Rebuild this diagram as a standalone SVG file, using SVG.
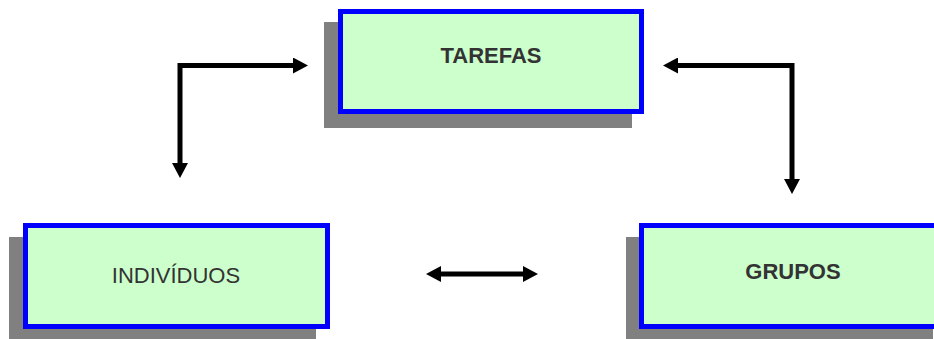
<svg xmlns="http://www.w3.org/2000/svg" width="934" height="339" viewBox="0 0 934 339">
  <style>
    .shadow { fill: #808080; }
    .box { fill: #CCFFCC; stroke: #0000FF; stroke-width: 5; }
    .label { font-family: "Liberation Sans", Arial, sans-serif; font-size: 22px; fill: #333333; text-anchor: middle; }
    .bold { font-weight: bold; }
    .link { fill: none; stroke: #000000; stroke-width: 5; stroke-linejoin: miter; stroke-linecap: butt; }
  </style>
  <defs>
    <marker id="head" markerUnits="userSpaceOnUse" viewBox="0 0 15 16" markerWidth="15" markerHeight="16" refX="0" refY="8" orient="auto-start-reverse">
      <path d="M0,0 L15,8 L0,16 z" fill="#000000"/>
    </marker>
  </defs>

  <g id="tarefas">
    <rect class="shadow" x="324" y="22" width="308" height="106"/>
    <rect class="box" x="340.5" y="11.5" width="301" height="100"/>
    <text class="label bold" x="491" y="63">TAREFAS</text>
  </g>

  <g id="individuos">
    <rect class="shadow" x="9" y="237" width="307" height="106"/>
    <rect class="box" x="25.5" y="225.5" width="302" height="101"/>
    <text class="label" x="176" y="283">INDIVÍDUOS</text>
  </g>

  <g id="grupos">
    <rect class="shadow" x="626" y="237" width="307" height="106"/>
    <rect class="box" x="641.5" y="225.5" width="302" height="101"/>
    <text class="label bold" x="793" y="279">GRUPOS</text>
  </g>

  <g id="connectors">
    <path class="link" d="M180,163 L180,65.5 L293,65.5" marker-start="url(#head)" marker-end="url(#head)"/>
    <path class="link" d="M678,65.5 L792,65.5 L792,179" marker-start="url(#head)" marker-end="url(#head)"/>
    <path class="link" d="M441,274 L523,274" marker-start="url(#head)" marker-end="url(#head)"/>
  </g>
</svg>
